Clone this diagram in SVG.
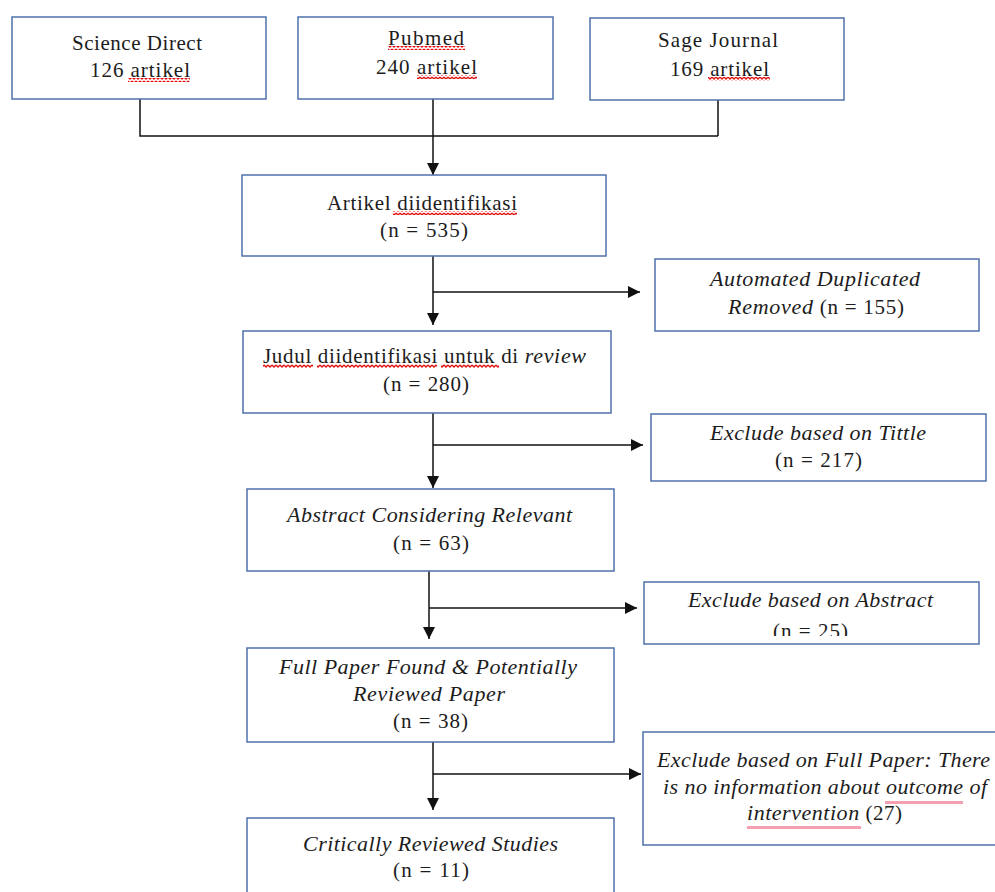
<svg xmlns="http://www.w3.org/2000/svg" width="995" height="892" viewBox="0 0 995 892">
<style>
.box{fill:#fff;stroke:#4f71ad;stroke-width:1.5}
.t{font-family:"Liberation Serif","Times New Roman",serif;font-size:21px;fill:#1c1c1c}
.i{font-style:italic;font-size:22px}
.c{stroke:#111;stroke-width:1.5;fill:none}
.a{marker-end:url(#arr)}
.sq{fill:url(#wave)}
.pk{fill:#f2a0b2}
</style>
<defs>
<marker id="arr" markerUnits="userSpaceOnUse" markerWidth="12" markerHeight="12" viewBox="0 0 10 10" refX="10" refY="5" orient="auto">
<path d="M0,0 L10,5 L0,10 z" fill="#111"/>
</marker>
<pattern id="wave" patternUnits="userSpaceOnUse" x="0" y="0" width="4" height="4">
<path d="M0 1 L2 3 L4 1" stroke="#e01010" stroke-width="1.3" fill="none"/>
</pattern>
<clipPath id="clip25"><rect x="644" y="582" width="335" height="54"/></clipPath>
</defs>
<rect width="995" height="892" fill="#fff"/>

<g id="connectors">
<path class="c" d="M140 99 V136 H718 M718 100 V136 M433 99 V136"/>
<path class="c a" d="M433 136 V175"/>
<path class="c a" d="M433 256 V325"/>
<path class="c a" d="M433 292 H640"/>
<path class="c a" d="M433 413 V488"/>
<path class="c a" d="M433 445 H643"/>
<path class="c a" d="M429 571 V639"/>
<path class="c a" d="M429 608 H637"/>
<path class="c a" d="M433 742 V810"/>
<path class="c a" d="M433 774 H641"/>
</g>

<g id="n-sciencedirect">
<rect class="box" x="12" y="17" width="254" height="82"/>
<text class="t" x="72" y="50" textLength="130" lengthAdjust="spacing">Science Direct</text>
<text class="t" x="90" y="77" textLength="100" lengthAdjust="spacing">126 artikel</text>
<rect class="sq" x="128" y="78" width="62" height="4"/>
</g>

<g id="n-pubmed">
<rect class="box" x="298" y="17" width="255" height="82"/>
<text class="t" x="388" y="45" textLength="76" lengthAdjust="spacing">Pubmed</text>
<rect class="sq" x="388" y="46" width="77" height="4"/>
<text class="t" x="376" y="74" textLength="101" lengthAdjust="spacing">240 artikel</text>
<rect class="sq" x="417" y="75" width="60" height="4"/>
</g>

<g id="n-sage">
<rect class="box" x="590" y="18" width="254" height="82"/>
<text class="t" x="658" y="47" textLength="120" lengthAdjust="spacing">Sage Journal</text>
<text class="t" x="670" y="76" textLength="99" lengthAdjust="spacing">169 artikel</text>
<rect class="sq" x="708" y="77" width="62" height="4"/>
</g>

<g id="n-identified">
<rect class="box" x="242" y="175" width="364" height="81"/>
<text class="t" x="327" y="210" textLength="190" lengthAdjust="spacing">Artikel diidentifikasi</text>
<rect class="sq" x="393" y="211" width="124" height="4"/>
<text class="t" x="380" y="237" textLength="88" lengthAdjust="spacing">(n = 535)</text>
</g>

<g id="n-duplicates">
<rect class="box" x="655" y="259" width="324" height="72"/>
<text class="t i" x="710" y="286" textLength="210" lengthAdjust="spacing">Automated Duplicated</text>
<text class="t" x="728" y="314" textLength="176" lengthAdjust="spacing"><tspan class="i">Removed</tspan> (n = 155)</text>
</g>

<g id="n-titles">
<rect class="box" x="243" y="331" width="368" height="82"/>
<text class="t" x="263" y="363" textLength="323" lengthAdjust="spacing">Judul diidentifikasi untuk di <tspan class="i">review</tspan></text>
<rect class="sq" x="263" y="364" width="50" height="4"/>
<rect class="sq" x="317" y="364" width="120" height="4"/>
<rect class="sq" x="441" y="364" width="58" height="4"/>
<text class="t" x="383" y="391" textLength="86" lengthAdjust="spacing">(n = 280)</text>
</g>

<g id="n-excl-title">
<rect class="box" x="651" y="414" width="335" height="67"/>
<text class="t i" x="710" y="440" textLength="216" lengthAdjust="spacing">Exclude based on Tittle</text>
<text class="t" x="775" y="467" textLength="87" lengthAdjust="spacing">(n = 217)</text>
</g>

<g id="n-abstract">
<rect class="box" x="247" y="489" width="367" height="82"/>
<text class="t i" x="287" y="522" textLength="285" lengthAdjust="spacing">Abstract Considering Relevant</text>
<text class="t" x="393" y="550" textLength="76" lengthAdjust="spacing">(n = 63)</text>
</g>

<g id="n-excl-abstract">
<rect class="box" x="644" y="582" width="335" height="62"/>
<text class="t i" x="688" y="607" textLength="245" lengthAdjust="spacing">Exclude based on Abstract</text>
<text class="t" x="773" y="638" textLength="75" lengthAdjust="spacing" clip-path="url(#clip25)">(n = 25)</text>
</g>

<g id="n-fullpaper">
<rect class="box" x="247" y="648" width="367" height="94"/>
<text class="t i" x="279" y="674" textLength="298" lengthAdjust="spacing">Full Paper Found &amp; Potentially</text>
<text class="t i" x="353" y="701" textLength="152" lengthAdjust="spacing">Reviewed Paper</text>
<text class="t" x="393" y="728" textLength="75" lengthAdjust="spacing">(n = 38)</text>
</g>

<g id="n-excl-full">
<rect class="box" x="643" y="732" width="360" height="113"/>
<rect class="pk" x="885" y="801" width="78" height="3"/>
<rect class="pk" x="747" y="826" width="114" height="3"/>
<text class="t i" x="657" y="767" textLength="333" lengthAdjust="spacing">Exclude based on Full Paper: There</text>
<text class="t i" x="663" y="794" textLength="324" lengthAdjust="spacing">is no information about outcome of</text>
<text class="t" x="747" y="820" textLength="155" lengthAdjust="spacing"><tspan class="i">intervention</tspan> (27)</text>
</g>

<g id="n-critical">
<rect class="box" x="247" y="818" width="367" height="90"/>
<text class="t i" x="303" y="851" textLength="255" lengthAdjust="spacing">Critically Reviewed Studies</text>
<text class="t" x="393" y="877" textLength="76" lengthAdjust="spacing">(n = 11)</text>
</g>
</svg>
